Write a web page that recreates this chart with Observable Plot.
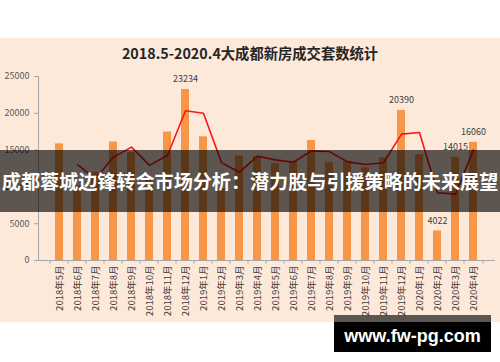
<!DOCTYPE html>
<html>
<head>
<meta charset="utf-8">
<script src="https://cdn.jsdelivr.net/npm/d3@7"></script>
<script src="https://cdn.jsdelivr.net/npm/@observablehq/plot@0.6"></script>
<style>
  html, body { margin: 0; padding: 0; background: #fff; }
  #wrap { position: relative; width: 500px; height: 362px; background: #fff; overflow: hidden; font-family: "Noto Sans CJK SC", "Noto Sans", sans-serif; }
  #panel { position: absolute; left: 0; top: 38px; width: 500px; height: 284px; background: #fde9da; }
  #title { position: absolute; left: 0; top: 44px; width: 500px; text-align: center; font-size: 14.3px; line-height: 18px; font-weight: bold; color: #262626; }
  #chart { position: absolute; left: 0; top: 0; }
  #banner { position: absolute; left: 0; top: 150px; width: 500px; height: 62px; background: rgba(0,0,0,0.63); color: #fff; font-weight: bold; font-size: 19.1px; line-height: 62px; text-align: center; white-space: nowrap; }
  #wmstrip { position: absolute; left: 334px; top: 315px; width: 157px; height: 7px; background: rgba(0,0,0,0.63); }
  #wm { position: absolute; left: 334px; top: 322px; width: 157px; height: 30px; background: #000; color: #fff; font-family: "Liberation Sans", Arial, sans-serif; font-weight: bold; font-size: 18px; line-height: 28px; text-align: center; }
</style>
</head>
<body>
<div id="wrap">
  <div id="panel"></div>
  <div id="title">2018.5-2020.4大成都新房成交套数统计</div>
  <div id="chart"></div>
  <div id="banner">成都蓉城边锋转会市场分析：潜力股与引援策略的未来展望</div>
  <div id="wmstrip"></div>
  <div id="wm">www.fw-pg.com</div>
</div>
<script>
const months = ["2018年5月","2018年6月","2018年7月","2018年8月","2018年9月","2018年10月","2018年11月","2018年12月",
  "2019年1月","2019年2月","2019年3月","2019年4月","2019年5月","2019年6月","2019年7月","2019年8月","2019年9月",
  "2019年10月","2019年11月","2019年12月","2020年1月","2020年2月","2020年3月","2020年4月"];
const sales = [15850, 10200, 12000, 16100, 14700, 11150, 17450, 23234, 16800, 9800, 14200, 14150,
  13200, 13500, 16300, 13300, 13500, 12600, 13950, 20390, 14400, 4022, 14015, 16060];
const trend = [null, 13025, 11100, 14050, 15400, 12925, 14300, 20342, 20017, 13300, 12000, 14175,
  13675, 13350, 14900, 14800, 13400, 13050, 13275, 17170, 17395, 9211, 9018, 15037];
const labelledMonths = ["2018年12月","2019年12月","2020年2月","2020年3月","2020年4月"];
const yTicks = [0, 5000, 10000, 15000, 20000, 25000];

const data = months.map((m, i) => ({month: m, sales: sales[i], trend: trend[i]}));
const step = (500 - 38 - 5) / months.length;

const chart = Plot.plot({
  width: 500,
  height: 362,
  marginLeft: 38,
  marginRight: 5,
  marginTop: 76,
  marginBottom: 102,
  style: {background: "transparent", fontFamily: "Noto Sans CJK SC, Noto Sans, sans-serif", overflow: "visible"},
  x: {domain: months, padding: 0.55, label: null},
  y: {domain: [0, 25000], label: null},
  marks: [
    Plot.barY(data, {x: "month", y: "sales", fill: "#f79646"}),
    Plot.lineY(data.filter(d => d.trend != null), {x: "month", y: "trend", stroke: "#ff1414", strokeWidth: 1.6}),
    Plot.text(data.filter(d => labelledMonths.includes(d.month)), {x: "month", y: "sales", text: d => String(d.sales), dy: -10, fontSize: 9, fill: "#404040"}),
    Plot.ruleY([0], {stroke: "#a6a6a6"}),
    Plot.ruleX(months, {x: d => d, dx: -step / 2, y1: 0, y2: -500, stroke: "#a6a6a6"}),
    Plot.ruleX(months.slice(-1), {x: d => d, dx: step / 2, y1: 0, y2: -500, stroke: "#a6a6a6"}),
    Plot.frame({anchor: "left", stroke: "#a6a6a6"}),
    Plot.axisY({ticks: yTicks, tickSize: 4, tickPadding: 5, fontSize: 9, color: "#595959", stroke: "#a6a6a6", tickFormat: d => String(d)}),
    Plot.axisX({tickSize: 0, tickRotate: -90, tickPadding: 5, fontSize: 9.5, color: "#404040"})
  ]
});
document.getElementById("chart").appendChild(chart);
</script>
</body>
</html>
